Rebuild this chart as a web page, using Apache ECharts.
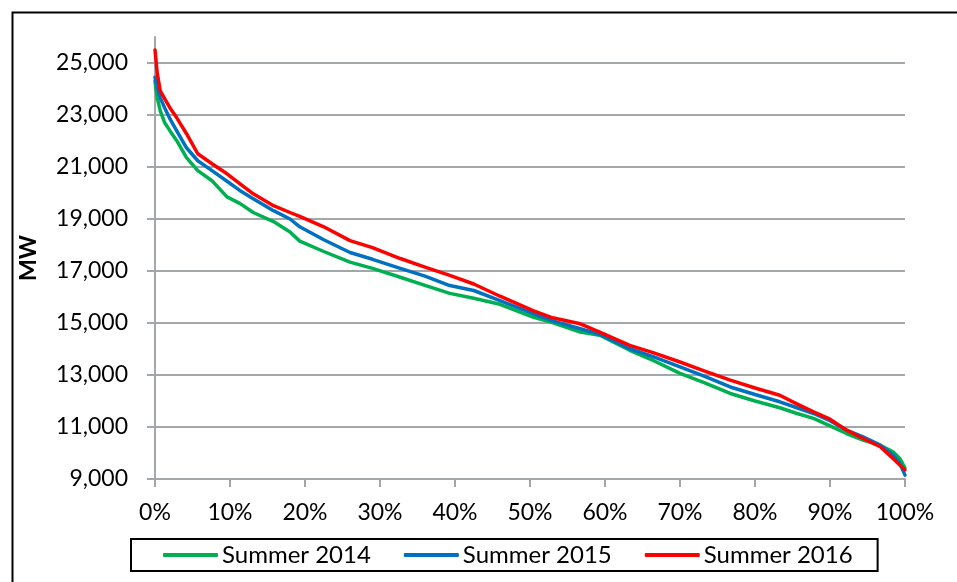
<!DOCTYPE html>
<html>
<head>
<meta charset="utf-8">
<style>
  html, body { margin: 0; padding: 0; background: #fff; }
  #chart { width: 957px; height: 582px; }
</style>
<script src="https://cdn.jsdelivr.net/npm/echarts@6/dist/echarts.min.js"></script>
</head>
<body>
<div id="chart"></div>
<script>
// Share of summer hours (%) at which each load sample is read
const hourShare = [0, 0.3, 0.7, 1.3, 2.0, 2.9, 4.2, 5.7, 7.6, 9.6, 11.3, 13.1, 15.8, 18.0, 19.3,
  22.5, 26, 29, 32.7, 36, 39.3, 42.5, 46, 50.4, 53, 56.7, 59.3, 63.3, 66.5, 70, 73.3, 76.7,
  80, 83.3, 85.5, 87.8, 90, 92.2, 94.4, 96.7, 98.4, 99.3, 100];

// Load duration curves, MW
const summer2014 = [24300, 23660, 23160, 22700, 22390, 22010, 21360, 20860, 20470, 19850, 19600, 19250, 18900, 18500, 18150,
  17750, 17340, 17100, 16760, 16450, 16140, 15950, 15720, 15230, 15020, 14650, 14530, 13950, 13550, 13060, 12700, 12290,
  12000, 11740, 11530, 11330, 11040, 10750, 10500, 10300, 10050, 9790, 9420];
const summer2015 = [24450, 24040, 23660, 23270, 22850, 22390, 21740, 21240, 20860, 20450, 20100, 19780, 19320, 19000, 18700,
  18200, 17710, 17450, 17100, 16800, 16440, 16250, 15860, 15360, 15080, 14780, 14560, 14010, 13700, 13310, 12950, 12540,
  12250, 11970, 11750, 11520, 11240, 10880, 10620, 10300, 9920, 9600, 9150];
const summer2016 = [25500, 24600, 23930, 23620, 23270, 22890, 22280, 21510, 21125, 20740, 20360, 19970, 19510, 19250, 19100,
  18700, 18170, 17900, 17480, 17150, 16830, 16500, 16030, 15480, 15200, 14970, 14650, 14140, 13850, 13500, 13150, 12800,
  12500, 12220, 11900, 11580, 11300, 10880, 10560, 10240, 9790, 9540, 9350];

const seriesNames = ['Summer 2014', 'Summer 2015', 'Summer 2016'];
const seriesValues = [summer2014, summer2015, summer2016];
const seriesColors = ['#00B050', '#0070C0', '#FF0000'];

// Y tick labels
const yTicks = [9000, 11000, 13000, 15000, 17000, 19000, 21000, 23000, 25000];

const FONT = 'Lato, "Liberation Sans", sans-serif';
const GRID_COLOR = '#a3a7aa';

const chart = echarts.init(document.getElementById('chart'), null, { renderer: 'canvas' });

chart.setOption({
  animation: false,
  backgroundColor: '#fff',
  textStyle: { fontFamily: FONT, color: '#000' },
  graphic: [{
    type: 'rect',
    left: 10, top: 10,
    shape: { width: 1000, height: 1000 },
    style: { fill: 'none', stroke: '#000', lineWidth: 2 },
    silent: true,
    z: -1
  }],
  grid: { left: 155, right: 52, top: 37, bottom: 103, containLabel: false },
  legend: {
    left: 131, top: 539,
    padding: [4, 25, 4, 32],
    itemGap: 33,
    itemWidth: 55,
    itemHeight: 4,
    icon: 'roundRect',
    borderColor: '#000',
    borderWidth: 2,
    textStyle: { fontFamily: FONT, fontSize: 24, color: '#000', padding: [0, 0, 0, -1] },
    data: seriesNames
  },
  xAxis: {
    type: 'value',
    min: 0, max: 100, interval: 10,
    axisLine: { lineStyle: { color: GRID_COLOR, width: 2 } },
    axisTick: { show: true, inside: false, length: 8, lineStyle: { color: GRID_COLOR, width: 2 } },
    splitLine: { show: false },
    axisLabel: {
      margin: 22,
      fontFamily: FONT, fontSize: 23, color: '#000',
      formatter: v => v + '%'
    }
  },
  yAxis: {
    type: 'value',
    min: 9000, max: 26000,
    name: 'MW',
    nameLocation: 'middle',
    nameGap: 115,
    nameTextStyle: { fontFamily: FONT, fontSize: 23, fontWeight: 'bold', color: '#000' },
    axisLine: { show: true, lineStyle: { color: GRID_COLOR, width: 2 } },
    axisTick: { show: true, length: 8, customValues: yTicks, lineStyle: { color: GRID_COLOR, width: 2 } },
    splitLine: { show: true, lineStyle: { color: GRID_COLOR, width: 2 } },
    axisLabel: {
      customValues: yTicks,
      margin: 27,
      fontFamily: FONT, fontSize: 23, color: '#000',
      formatter: v => v.toLocaleString('en-US')
    }
  },
  series: seriesNames.map((name, i) => ({
    name,
    type: 'line',
    data: hourShare.map((p, k) => [p, seriesValues[i][k]]),
    showSymbol: false,
    symbol: 'none',
    clip: false,
    color: seriesColors[i],
    lineStyle: { color: seriesColors[i], width: 3.5, join: 'round', cap: 'round' },
    emphasis: { disabled: true }
  }))
});
</script>
</body>
</html>
